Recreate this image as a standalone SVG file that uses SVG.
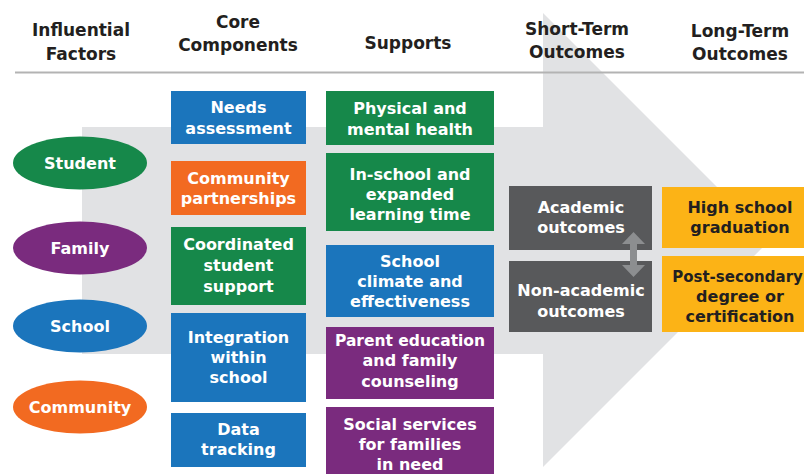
<svg xmlns="http://www.w3.org/2000/svg" width="804" height="475" viewBox="0 0 804 475">
<style>
  text { font-family: "DejaVu Sans", "Liberation Sans", sans-serif; font-weight: bold; text-anchor: middle; }
  .hd { font-size: 17px; fill: #231f20; }
  .w { font-size: 16px; fill: #ffffff; }
  .k { font-size: 16px; fill: #231f20; }
  .blue { fill: #1b75bc; }
  .green { fill: #16884a; }
  .orange { fill: #f26a21; }
  .purple { fill: #7a2b7e; }
  .dgray { fill: #58595b; }
  .yellow { fill: #fcb316; }
</style>
<rect width="804" height="475" fill="#ffffff"/>
<!-- background arrow -->
<polygon id="big-arrow" points="82,127 543,127 543,13 770,240 543,467 543,354 82,354" fill="#e1e2e4"/>
<!-- header -->
<g id="headers">
  <text class="hd" x="81" y="36">Influential</text>
  <text class="hd" x="81" y="60">Factors</text>
  <text class="hd" x="238" y="28">Core</text>
  <text class="hd" x="238" y="51">Components</text>
  <text class="hd" x="408" y="49">Supports</text>
  <text class="hd" x="577" y="35">Short-Term</text>
  <text class="hd" x="577" y="58">Outcomes</text>
  <text class="hd" x="740" y="37">Long-Term</text>
  <text class="hd" x="740" y="60">Outcomes</text>
  <line x1="15" y1="72.5" x2="804" y2="72.5" stroke="#b3b3b3" stroke-width="2"/>
</g>
<!-- influential factors -->
<g id="student"><ellipse class="green" cx="80" cy="163" rx="67" ry="26.5"/><text class="w" x="80" y="169">Student</text></g>
<g id="family"><ellipse class="purple" cx="80" cy="248" rx="67" ry="26.5"/><text class="w" x="80" y="254">Family</text></g>
<g id="school"><ellipse class="blue" cx="80" cy="326" rx="67" ry="26.5"/><text class="w" x="80" y="332">School</text></g>
<g id="community"><ellipse class="orange" cx="80" cy="407" rx="67" ry="26.5"/><text class="w" x="80" y="413">Community</text></g>
<!-- core components -->
<g id="needs"><rect class="blue" x="171" y="91" width="135" height="53"/><text class="w" x="238.5" y="113">Needs</text><text class="w" x="238.5" y="134">assessment</text></g>
<g id="partnerships"><rect class="orange" x="171" y="161" width="135" height="54"/><text class="w" x="238.5" y="184">Community</text><text class="w" x="238.5" y="204">partnerships</text></g>
<g id="coordinated"><rect class="green" x="171" y="227" width="135" height="78"/><text class="w" x="238.5" y="250">Coordinated</text><text class="w" x="238.5" y="271">student</text><text class="w" x="238.5" y="292">support</text></g>
<g id="integration"><rect class="blue" x="171" y="313" width="135" height="89"/><text class="w" x="238.5" y="343">Integration</text><text class="w" x="238.5" y="363">within</text><text class="w" x="238.5" y="383">school</text></g>
<g id="data"><rect class="blue" x="171" y="413" width="135" height="54"/><text class="w" x="238.5" y="435">Data</text><text class="w" x="238.5" y="455">tracking</text></g>
<!-- supports -->
<g id="physical"><rect class="green" x="326" y="91" width="168" height="54"/><text class="w" x="410" y="114">Physical and</text><text class="w" x="410" y="135">mental health</text></g>
<g id="inschool"><rect class="green" x="326" y="153" width="168" height="78"/><text class="w" x="410" y="180">In-school and</text><text class="w" x="410" y="200">expanded</text><text class="w" x="410" y="220">learning time</text></g>
<g id="climate"><rect class="blue" x="326" y="245" width="168" height="72"/><text class="w" x="410" y="267">School</text><text class="w" x="410" y="287">climate and</text><text class="w" x="410" y="307">effectiveness</text></g>
<g id="parent"><rect class="purple" x="326" y="327" width="168" height="72"/><text class="w" x="410" y="346" style="font-size:15.5px">Parent education</text><text class="w" x="410" y="366">and family</text><text class="w" x="410" y="387">counseling</text></g>
<g id="social"><rect class="purple" x="326" y="407" width="168" height="67"/><text class="w" x="410" y="430">Social services</text><text class="w" x="410" y="450">for families</text><text class="w" x="410" y="470">in need</text></g>
<!-- short-term outcomes -->
<g id="academic"><rect class="dgray" x="509" y="186" width="143" height="64"/><text class="w" x="581" y="213">Academic</text><text class="w" x="581" y="233">outcomes</text></g>
<g id="nonacademic"><rect class="dgray" x="509" y="261" width="143" height="71"/><text class="w" x="581" y="296">Non-academic</text><text class="w" x="581" y="317">outcomes</text></g>
<!-- long-term outcomes -->
<g id="highschool"><rect class="yellow" x="662" y="187" width="160" height="61"/><text class="k" x="740" y="213">High school</text><text class="k" x="740" y="233">graduation</text></g>
<g id="postsecondary"><rect class="yellow" x="662" y="256" width="160" height="76"/><text class="k" x="737.5" y="282" style="font-size:15px">Post-secondary</text><text class="k" x="740" y="302">degree or</text><text class="k" x="740" y="322">certification</text></g>
<!-- connectors -->
<g id="connectors">
  <polygon points="633.5,232 645,244 637,244 637,265 645,265 633.5,277 622,265 630,265 630,244 622,244" fill="#8c8e90"/>
</g>
</svg>
